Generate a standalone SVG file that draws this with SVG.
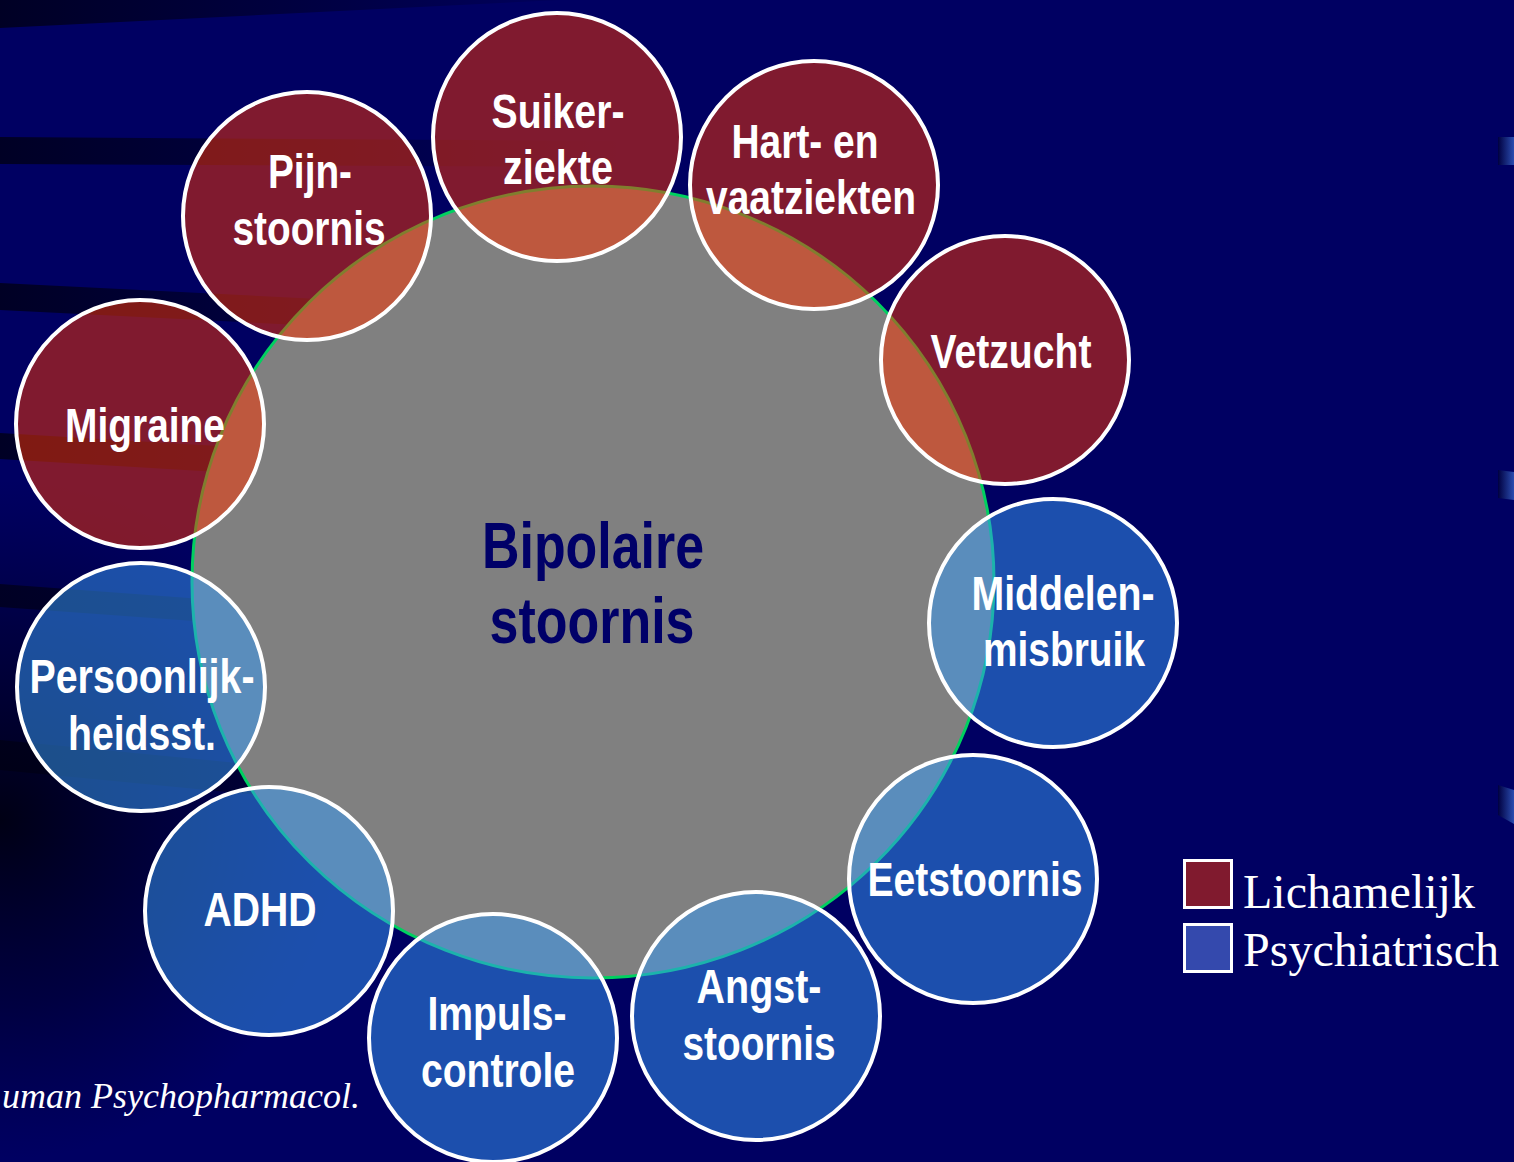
<svg xmlns="http://www.w3.org/2000/svg" width="1514" height="1162" viewBox="0 0 1514 1162">
  <defs>
    <!-- dark streaks on the left edge of the background -->
    <linearGradient id="streak" gradientUnits="userSpaceOnUse" x1="0" y1="0" x2="620" y2="0">
      <stop offset="0" stop-color="#00001a" stop-opacity="0.85"/>
      <stop offset="0.5" stop-color="#00001a" stop-opacity="0.45"/>
      <stop offset="1" stop-color="#00001a" stop-opacity="0"/>
    </linearGradient>
    <radialGradient id="corner" gradientUnits="userSpaceOnUse" cx="0" cy="820" r="340">
      <stop offset="0" stop-color="#000010" stop-opacity="0.95"/>
      <stop offset="0.55" stop-color="#000020" stop-opacity="0.5"/>
      <stop offset="1" stop-color="#000030" stop-opacity="0"/>
    </radialGradient>
    <linearGradient id="tab" x1="0" y1="0" x2="1" y2="0">
      <stop offset="0" stop-color="#000040"/>
      <stop offset="1" stop-color="#2a4cb0"/>
    </linearGradient>
    <style>
      .lbl { font-family: "Liberation Sans Narrow", "Arial Narrow", "Liberation Sans", sans-serif; font-weight: bold; font-size: 48px; fill: #ffffff; text-anchor: middle; }
      .main { font-family: "Liberation Sans Narrow", "Arial Narrow", "Liberation Sans", sans-serif; font-weight: bold; font-size: 64px; fill: #000068; text-anchor: middle; }
      .body { stroke: #ffffff; stroke-width: 4; }
      .phys { fill: rgb(248,50,0); fill-opacity: 0.516; }
      .psy { fill: rgb(54,153,243); fill-opacity: 0.516; }
      .leg { font-family: "Liberation Serif", "Times New Roman", serif; font-size: 48px; fill: #ffffff; }
      .cite { font-family: "Liberation Serif", "Times New Roman", serif; font-style: italic; font-size: 36px; fill: #ffffff; }
    </style>
  </defs>

  <!-- background -->
  <rect x="0" y="0" width="1514" height="1162" fill="#000062"/>
  <g id="background-streaks">
    <polygon points="0,0 560,0 0,28" fill="url(#streak)"/>
    <polygon points="0,137 620,141 620,167 0,164" fill="url(#streak)"/>
    <polygon points="0,283 620,314 620,341 0,310" fill="url(#streak)"/>
    <polygon points="0,433 620,470 620,496 0,459" fill="url(#streak)"/>
    <polygon points="0,584 620,630 620,652 0,607" fill="url(#streak)"/>
    <polygon points="0,740 620,800 620,830 0,770" fill="url(#streak)"/>
    <rect x="0" y="480" width="420" height="682" fill="url(#corner)"/>
    <polygon points="1498,137 1514,137 1514,165 1498,165" fill="url(#tab)"/>
    <polygon points="1498,470 1514,472 1514,500 1498,498" fill="url(#tab)"/>
    <polygon points="1498,785 1514,790 1514,824 1498,815" fill="url(#tab)"/>
  </g>

  <!-- central disorder -->
  <g id="bipolaire">
    <ellipse cx="593" cy="582" rx="401" ry="396" fill="#808080" stroke="#00d060" stroke-width="3"/>
    <text class="main" x="593" y="568" textLength="222" lengthAdjust="spacingAndGlyphs">Bipolaire</text>
    <text class="main" x="592" y="643" textLength="205" lengthAdjust="spacingAndGlyphs">stoornis</text>
  </g>

  <!-- comorbid conditions (physical) -->
  <g id="suikerziekte">
    <circle class="body phys" cx="557" cy="137" r="124"/>
    <text class="lbl" x="558" y="128" textLength="133" lengthAdjust="spacingAndGlyphs">Suiker-</text>
    <text class="lbl" x="558" y="184" textLength="110" lengthAdjust="spacingAndGlyphs">ziekte</text>
  </g>
  <g id="hart-vaatziekten">
    <circle class="body phys" cx="814" cy="185" r="124"/>
    <text class="lbl" x="805" y="158" textLength="147" lengthAdjust="spacingAndGlyphs">Hart- en</text>
    <text class="lbl" x="811" y="214" textLength="210" lengthAdjust="spacingAndGlyphs">vaatziekten</text>
  </g>
  <g id="vetzucht">
    <circle class="body phys" cx="1005" cy="360" r="124"/>
    <text class="lbl" x="1011" y="368" textLength="161" lengthAdjust="spacingAndGlyphs">Vetzucht</text>
  </g>
  <g id="migraine">
    <circle class="body phys" cx="140" cy="424" r="124"/>
    <text class="lbl" x="145" y="442" textLength="160" lengthAdjust="spacingAndGlyphs">Migraine</text>
  </g>
  <g id="pijnstoornis">
    <circle class="body phys" cx="307" cy="216" r="124"/>
    <text class="lbl" x="310" y="188" textLength="84" lengthAdjust="spacingAndGlyphs">Pijn-</text>
    <text class="lbl" x="309" y="245" textLength="153" lengthAdjust="spacingAndGlyphs">stoornis</text>
  </g>

  <!-- comorbid conditions (psychiatric) -->
  <g id="middelenmisbruik">
    <circle class="body psy" cx="1053" cy="623" r="124"/>
    <text class="lbl" x="1063" y="610" textLength="183" lengthAdjust="spacingAndGlyphs">Middelen-</text>
    <text class="lbl" x="1064" y="666" textLength="162" lengthAdjust="spacingAndGlyphs">misbruik</text>
  </g>
  <g id="eetstoornis">
    <circle class="body psy" cx="973" cy="879" r="124"/>
    <text class="lbl" x="975" y="896" textLength="215" lengthAdjust="spacingAndGlyphs">Eetstoornis</text>
  </g>
  <g id="angststoornis">
    <circle class="body psy" cx="756" cy="1016" r="124"/>
    <text class="lbl" x="759" y="1003" textLength="125" lengthAdjust="spacingAndGlyphs">Angst-</text>
    <text class="lbl" x="759" y="1060" textLength="153" lengthAdjust="spacingAndGlyphs">stoornis</text>
  </g>
  <g id="impulscontrole">
    <circle class="body psy" cx="493" cy="1038" r="124"/>
    <text class="lbl" x="497" y="1030" textLength="139" lengthAdjust="spacingAndGlyphs">Impuls-</text>
    <text class="lbl" x="498" y="1087" textLength="154" lengthAdjust="spacingAndGlyphs">controle</text>
  </g>
  <g id="adhd">
    <circle class="body psy" cx="269" cy="911" r="124"/>
    <text class="lbl" x="260" y="926" textLength="113" lengthAdjust="spacingAndGlyphs">ADHD</text>
  </g>
  <g id="persoonlijkheidsstoornis">
    <circle class="body psy" cx="141" cy="687" r="124"/>
    <text class="lbl" x="142" y="693" textLength="225" lengthAdjust="spacingAndGlyphs">Persoonlijk-</text>
    <text class="lbl" x="142" y="750" textLength="148" lengthAdjust="spacingAndGlyphs">heidsst.</text>
  </g>

  <!-- no connectors in this chart -->
  <g id="connectors"/>

  <!-- legend -->
  <g id="legend">
    <rect x="1184.5" y="860.5" width="47" height="47" fill="#801a2e" stroke="#ffffff" stroke-width="3"/>
    <rect x="1184.5" y="924.5" width="47" height="47" fill="#3449ad" stroke="#ffffff" stroke-width="3"/>
    <text class="leg" x="1243" y="908">Lichamelijk</text>
    <text class="leg" x="1243" y="966">Psychiatrisch</text>
  </g>

  <!-- source line -->
  <text class="cite" x="360" y="1108" text-anchor="end">uman Psychopharmacol.</text>
</svg>
